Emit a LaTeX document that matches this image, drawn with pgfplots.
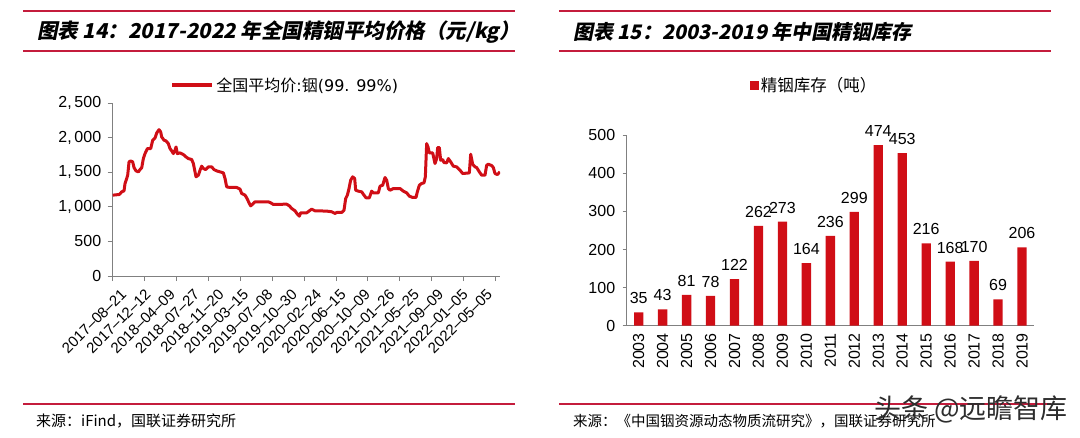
\documentclass[border=0pt]{standalone}
\usepackage{fontspec}
\setmainfont{Liberation Sans}
\newfontfamily\cjk{Noto Sans CJK SC}
\newfontfamily\dvs{DejaVu Sans}
\newfontfamily\titlefont[FakeSlant=0.2]{Noto Sans CJK SC}
\usepackage{pgfplots}
\pgfplotsset{compat=1.18}
\definecolor{barred}{RGB}{208,14,22}
\definecolor{rulered}{RGB}{196,28,60}
\definecolor{axgray}{RGB}{128,128,128}
\begin{document}
\begin{tikzpicture}[x=1pt,y=1pt]
\path[use as bounding box] (0,0) rectangle (1080,437);
% ---- title rules and titles
\draw[rulered, line width=1.5pt] (23,426) -- (515,426);
\draw[rulered, line width=1.5pt] (23,386) -- (515,386);
\draw[rulered, line width=1.5pt] (559,426) -- (1051,426);
\draw[rulered, line width=1.5pt] (559,386) -- (1051,386);
\node[anchor=west, inner sep=0pt] at (37,405) {\titlefont\bfseries\fontsize{20.5}{20.5}\selectfont 图表 14：2017-2022 年全国精铟平均价格（元/kg）};
\node[anchor=west, inner sep=0pt] at (573,405) {\titlefont\bfseries\fontsize{20}{20}\selectfont 图表 15：2003-2019 年中国精铟库存};
% ---- source rules and notes
\draw[rulered, line width=1.5pt] (23,33) -- (515,33);
\draw[rulered, line width=1.5pt] (559,33) -- (1051,33);
\node[anchor=west, inner sep=0pt] at (36,16) {\cjk\fontsize{15}{15}\selectfont 来源：iFind，国联证券研究所};
\node[anchor=west, inner sep=0pt] at (573,16) {\cjk\fontsize{14.5}{14.5}\selectfont 来源：《中国铟资源动态物质流研究》，国联证券研究所};

% ---- left: line chart
\begin{axis}[
  at={(112.7pt,161pt)}, anchor=south west,
  scale only axis, width=387.3pt, height=173pt,
  xmin=158, xmax=1320, ymin=0, ymax=2500,
  axis lines=left, axis line style={-, axgray, line width=0.9pt},
  tick style={axgray, line width=0.9pt}, major tick length=5pt, tick align=outside,
  tick label style={font=\fontsize{16}{16}\selectfont, text=black},
  ytick={0,500,1000,1500,2000,2500},
  yticklabels={0,500,{1,\,000},{1,\,500},{2,\,000},{2,\,500}},
  yticklabel style={xshift=-3pt},
  xtick={158,253.7,349.4,445.1,540.8,636.5,732.2,827.9,923.6,1019.3,1115,1210.7,1306.4},
  xticklabels={},
  extra x ticks={158,231.2,304.4,377.6,450.8,524,597.2,670.4,743.6,816.8,890,963.2,1036.4,1109.6,1182.8,1256},
  extra x tick labels={2017--08--21,2017--12--12,2018--04--09,2018--07--27,2018--11--20,2019--03--15,2019--07--08,2019--10--30,2020--02--24,2020--06--15,2020--10--09,2021--01--26,2021--05--25,2021--09--09,2022--01--05,2022--05--05},
  extra x tick style={major tick length=0pt, xticklabel style={rotate=45, anchor=north east, yshift=-10pt, font=\fontsize{15}{15}\selectfont}},
  legend style={at={(0.445,1.104)}, anchor=center, draw=none, fill=none,
    font=\cjk\fontsize{16}{16}\selectfont},
  legend image code/.code={\draw[#1,line width=4.5pt] (0pt,0pt) -- (40pt,0pt);},
]
\addplot[barred, line width=3pt, line join=round] coordinates {
(158,1168) (178,1178) (185,1216) (192,1231) (195,1337) (200,1409) (203,1457)
(207,1649) (212,1663) (218,1649) (222,1567) (228,1519) (235,1505) (240,1538)
(245,1563) (250,1697) (255,1769) (262,1841) (272,1841) (278,1962) (285,1995)
(290,2067) (297,2115) (302,2082) (305,2010) (312,1962) (318,1952) (325,1913)
(330,1841) (335,1808) (340,1769) (345,1817) (348,1865) (352,1769) (360,1779)
(370,1755) (378,1721) (385,1697) (395,1683) (400,1625) (405,1505) (408,1433)
(415,1457) (420,1529) (425,1587) (430,1553) (437,1538) (445,1577) (455,1577)
(462,1538) (470,1519) (480,1505) (490,1490) (495,1409) (500,1288) (510,1279)
(530,1279) (540,1255) (545,1192) (555,1168) (560,1130) (568,1048) (572,1014)
(578,1038) (585,1072) (625,1072) (632,1058) (640,1034) (680,1038) (688,1014)
(695,976) (705,942) (712,894) (718,865) (722,913) (740,913) (748,942)
(755,966) (765,942) (800,938) (815,928) (825,904) (830,918) (845,918)
(852,952) (857,1120) (862,1168) (867,1264) (872,1385) (878,1433) (884,1409)
(887,1240) (895,1226) (905,1216) (912,1168) (918,1130) (928,1130) (935,1226)
(940,1202) (955,1202) (960,1298) (968,1312) (975,1423) (980,1385) (985,1264)
(990,1240) (1000,1264) (1020,1264) (1030,1226) (1040,1202) (1048,1154) (1058,1135)
(1068,1135) (1072,1216) (1078,1312) (1085,1337) (1092,1346) (1096,1433) (1100,1913)
(1104,1865) (1108,1779) (1118,1779) (1125,1625) (1130,1697) (1133,1856) (1138,1856)
(1142,1673) (1148,1683) (1152,1639) (1160,1635) (1165,1697) (1172,1649) (1180,1587)
(1190,1577) (1200,1529) (1208,1481) (1228,1490) (1232,1760) (1238,1615) (1245,1577)
(1250,1567) (1258,1505) (1265,1457) (1275,1457) (1280,1601) (1285,1615) (1295,1596)
(1300,1567) (1305,1481) (1312,1466) (1320,1505)
};
\addlegendentry{全国平均价{\dvs:}铟{\dvs(99. 99\%)}}
\end{axis}

% ---- right: bar chart
\begin{axis}[
  at={(626.7pt,111.3pt)}, anchor=south west,
  scale only axis, width=407.3pt, height=190.4pt,
  xmin=-0.5, xmax=16.5, ymin=0, ymax=500,
  axis lines=left, axis line style={-, axgray, line width=0.9pt},
  tick style={axgray, line width=0.9pt}, major tick length=4pt, tick align=outside,
  x tick style={draw=none},
  tick label style={font=\fontsize{16}{16}\selectfont, text=black},
  /pgf/number format/assume math mode=true,
  ytick={0,100,200,300,400,500},
  yticklabel style={xshift=-4pt},
  xtick={0,...,16},
  xticklabels={2003,2004,2005,2006,2007,2008,2009,2010,2011,2012,2013,2014,2015,2016,2017,2018,2019},
  xticklabel style={rotate=90, anchor=east},
  ybar, bar width=9.3pt,
  nodes near coords,
  every node near coord/.append style={font=\fontsize{16}{16}\selectfont, text=black, yshift=5pt},
  clip=false,
  legend style={at={(0.46,1.264)}, anchor=center, draw=none, fill=none,
    font=\cjk\fontsize{16.5}{16.5}\selectfont},
  legend image code/.code={\fill[barred] (0pt,-4.5pt) rectangle (9pt,4.5pt);},
]
\addplot[fill=barred, draw=none] coordinates {
(0,35) (1,43) (2,81) (3,78) (4,122) (5,262) (6,273) (7,164) (8,236)
(9,299) (10,474) (11,453) (12,216) (13,168) (14,170) (15,69) (16,206)
};
\addlegendentry{精铟库存（吨）}
\end{axis}

% watermark
\node[anchor=east, inner sep=0pt, text={rgb,255:red,45;green,45;blue,45}] at (1068,28) {\cjk\fontsize{27}{27}\selectfont 头条 @远瞻智库};
\end{tikzpicture}
\end{document}
